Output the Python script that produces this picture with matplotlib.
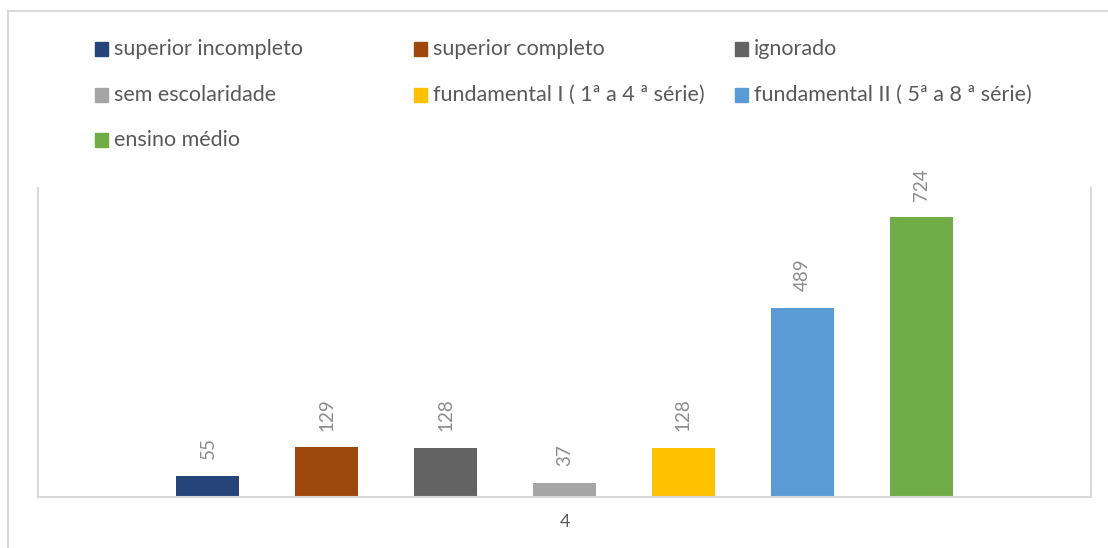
import matplotlib

matplotlib.use("Agg")
import matplotlib.pyplot as plt
from matplotlib.lines import Line2D
from matplotlib.patches import Rectangle

plt.rcParams["font.family"] = ["Lato", "DejaVu Sans"]

# data (single category "4")
categories = [
    "superior incompleto",
    "superior completo",
    "ignorado",
    "sem escolaridade",
    "fundamental I ( 1ª a 4 ª série)",
    "fundamental II ( 5ª a 8 ª série)",
    "ensino médio",
]
values = [55, 129, 128, 37, 128, 489, 724]
colors = ["#264478", "#9e480e", "#636363", "#a5a5a5", "#ffc000", "#5b9bd5", "#70ad47"]
group_label = "4"

W, H = 1108, 548
fig = plt.figure(figsize=(W / 100, H / 100), dpi=100)

# plot area in pixels: left 38, right 1091, top 188, bottom 497
ax = fig.add_axes([38 / W, 1 - 497 / H, (1091 - 38) / W, (497 - 188) / H])
xs = list(range(len(values)))
ax.bar(xs, values, width=0.53, color=colors, zorder=2)
for x, v in zip(xs, values):
    ax.annotate(str(v), (x, v), xytext=(0, 12), textcoords="offset points",
                rotation=90, ha="center", va="bottom", fontsize=13.5, color="#8c8c8c")
ax.set_xlim(-1.43, len(values) - 1 + 1.43)
ax.set_ylim(0, 800)
ax.set_yticks([])
ax.set_xticks([(len(values) - 1) / 2])
ax.set_xticklabels([group_label], fontsize=13, color="#595959")
ax.tick_params(axis="x", length=0, pad=12)
for side in ["left", "right", "bottom"]:
    ax.spines[side].set_color("#d9d9d9")
    ax.spines[side].set_linewidth(1.5)
ax.spines["top"].set_visible(False)

# legend laid out like the Excel one: 3 fixed-width columns, row-major order
col_x = [95, 414, 735]
row_y = [49, 95, 140]
for i, (lab, c) in enumerate(zip(categories, colors)):
    cx = col_x[i % 3]
    cy = row_y[i // 3]
    fig.patches.append(Rectangle((cx / W, 1 - (cy + 7) / H), 13 / W, 14 / H,
                                 transform=fig.transFigure, color=c))
    fig.text((cx + 19) / W, 1 - cy / H, lab, ha="left", va="center",
             fontsize=15.5, color="#595959")

# outer chart border (top and left edges visible in the crop)
fig.add_artist(Line2D([8 / W, 1], [1 - 11 / H, 1 - 11 / H], transform=fig.transFigure,
                      color="#d9d9d9", lw=1.5))
fig.add_artist(Line2D([8 / W, 8 / W], [0, 1 - 11 / H], transform=fig.transFigure,
                      color="#d9d9d9", lw=1.5))

fig.savefig("out.png", dpi=100)
plt.close()
